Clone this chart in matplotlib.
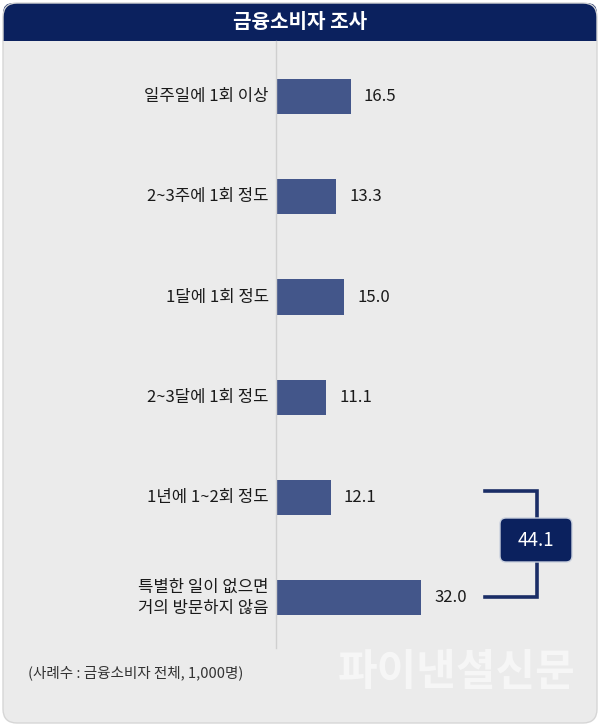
import matplotlib
matplotlib.use("Agg")
import matplotlib.pyplot as plt
from matplotlib.patches import FancyBboxPatch, Rectangle

plt.rcParams['font.family'] = ['Noto Sans CJK KR', 'DejaVu Sans']

# 데이터
labels = ['일주일에 1회 이상', '2~3주에 1회 정도', '1달에 1회 정도',
          '2~3달에 1회 정도', '1년에 1~2회 정도', '특별한 일이 없으면\n거의 방문하지 않음']
values = [16.5, 13.3, 15.0, 11.1, 12.1, 32.0]
title = '금융소비자 조사'
note = '(사례수 : 금융소비자 전체, 1,000명)'
brand = '파이낸셜신문'

navy = '#0b215e'
bar_c = '#43568a'
bg = '#ebebeb'

fig = plt.figure(figsize=(6, 7.28), dpi=100)
fig.patch.set_facecolor('white')

# 배경 (픽셀 좌표)
bg_ax = fig.add_axes([0, 0, 1, 1], zorder=0)
bg_ax.set_xlim(0, 600)
bg_ax.set_ylim(728, 0)
bg_ax.axis('off')

bg_ax.add_patch(FancyBboxPatch((3, 3), 594, 720, boxstyle='round,pad=0,rounding_size=14',
                               fc=bg, ec='none'))
bg_ax.add_patch(FancyBboxPatch((3, 3), 594, 60, boxstyle='round,pad=0,rounding_size=10',
                               fc=navy, ec='none'))
bg_ax.add_patch(Rectangle((3, 41), 594, 30, fc=bg, ec='none'))
bg_ax.add_patch(FancyBboxPatch((3, 3), 594, 720, boxstyle='round,pad=0,rounding_size=14',
                               fc='none', ec='#d6d6d6', lw=1))
bg_ax.text(300, 22, title, color='white', fontsize=14.5, fontweight='bold',
           ha='center', va='center')
bg_ax.text(28, 673, note, color='#333333', fontsize=10.5, ha='left', va='center')
bg_ax.text(457, 672, brand, color='#f6f6f6', fontsize=31, fontweight='bold',
           ha='center', va='center')

# 막대 그래프
ax = fig.add_axes([276 / 600, 1 - 648 / 728, 322 / 600, 607 / 728], zorder=1)
ax.patch.set_alpha(0)
ypos = list(range(len(values)))
ax.barh(ypos, values, height=0.35, color=bar_c)
ax.set_xlim(0, 322 / 4.53)
ax.set_ylim(5.5, -0.553)
for s in ['top', 'right', 'bottom']:
    ax.spines[s].set_visible(False)
ax.spines['left'].set_color('#cfcfcf')
ax.spines['left'].set_linewidth(1)
ax.set_xticks([])
ax.set_yticks([])

for y, v, lab in zip(ypos, values, labels):
    ax.text(v + 2.9, y, f'{v:.1f}', fontsize=12, color='#1a1a1a', ha='left',
            va='center', fontweight='medium')
    ax.text(-1.6, y, lab, fontsize=12, color='#1a1a1a', ha='right', va='center',
            linespacing=1.25, fontweight='medium')

# 합계 브래킷
total = values[4] + values[5]
bx0, bx1 = 485, 537
ty, by = 491, 597
bg_ax.plot([bx0, bx1, bx1, bx0], [ty, ty, by, by], color='#1a2d66', lw=2.6,
           solid_joinstyle='miter', zorder=2)
bg_ax.add_patch(FancyBboxPatch((500, 518), 72, 44, boxstyle='round,pad=0,rounding_size=6',
                               fc=navy, ec='#c9d0de', lw=1, zorder=3))
bg_ax.text(536, 540, f'{total:.1f}', color='white', fontsize=13.5, ha='center',
           va='center', zorder=4, fontweight='medium')

fig.savefig('out.png', dpi=100)
